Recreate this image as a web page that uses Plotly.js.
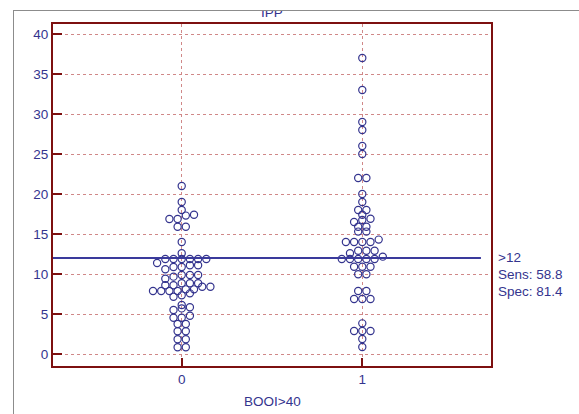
<!DOCTYPE html>
<html>
<head>
<meta charset="utf-8">
<script src="https://cdn.plot.ly/plotly-3.0.1.min.js"></script>
<style>
html,body{margin:0;padding:0;background:#fff;overflow:hidden;}
#chart{position:absolute;left:0;top:0;width:579px;height:414px;}
#mask{position:absolute;left:0;top:0;width:579px;height:10px;background:#fff;}
#frame{position:absolute;left:13px;top:10px;width:700px;height:600px;border-left:1px solid #8c8c8c;border-top:1px solid #8c8c8c;pointer-events:none;}
</style>
</head>
<body>
<div id="chart"></div>
<div id="mask"></div>
<div id="frame"></div>
<script>
// ---- data ----
const groupLabels = ['0', '1'];
const group0Values = [0.84,0.84,1.84,1.84,2.84,2.84,3.75,3.75,4.54,4.54,4.79,5.5,5.7,5.84,6.12,
  7.16,7.33,7.58,7.88,7.88,7.88,7.88,8.08,8.08,8.41,8.41,8.59,8.59,8.84,8.84,8.84,
  9.41,9.67,9.88,9.88,9.88,10.59,10.88,10.88,11.09,11.09,11.38,11.88,11.88,11.88,11.88,11.88,11.88,
  12.59,14,15.9,15.9,16.88,16.88,17.3,17.4,18,19,21];
const group1Values = [0.88,1.88,2.88,2.88,2.88,3.83,6.88,6.88,6.88,7.88,7.88,9.96,9.96,
  10.9,10.9,10.9,11.88,11.88,11.88,11.88,11.88,12.17,12.6,12.9,12.9,12.9,14,14,14,14,14.3,
  15.3,15.3,15.9,15.9,16.5,16.75,16.9,17.4,18,18,19,20,22,22,25,26,28,29,33,37];
const cutoff = 12;
const criterionLabel = '>12';
const sensitivity = 58.8;
const specificity = 81.4;
const yTickVals = [0,5,10,15,20,25,30,35,40];
const xTitle = 'BOOI>40';
const chartTitle = 'IPP';

// ---- layout constants ----
const W = 579, H = 414;
const M = {l: 53, r: 88, t: 24, b: 48};
const xRange = [-0.7127, 1.7127];
const yRange = [-1.5, 41.25];
const navy = '#34348e';
const maroon = '#7d1010';
const gridCol = '#d08888';
const font = 'Liberation Sans, Arial, sans-serif';
const fs = 13.5;
const markerPx = 8.2;   // dot spacing in pixels
const rowTol = 0.55;    // values closer than this share a row

const plotW = W - M.l - M.r;
const slot = markerPx * (xRange[1] - xRange[0]) / plotW;

function dotPlot(values, center) {
  const s = values.slice().sort((a, b) => a - b);
  const xs = [], ys = [];
  let i = 0;
  while (i < s.length) {
    const start = s[i];
    const row = [];
    while (i < s.length && s[i] - start <= rowTol + 1e-9) row.push(s[i++]);
    row.forEach((v, k) => { xs.push(center + (k - (row.length - 1) / 2) * slot); ys.push(v); });
  }
  return {xs, ys};
}

const d0 = dotPlot(group0Values, 0);
const d1 = dotPlot(group1Values, 1);

const markerStyle = {symbol: 'circle-open', size: 7.2, color: navy, line: {width: 1.2, color: navy}};

const traces = [
  {x: d0.xs, y: d0.ys, type: 'scatter', mode: 'markers', marker: markerStyle, hoverinfo: 'y', showlegend: false, cliponaxis: false},
  {x: d1.xs, y: d1.ys, type: 'scatter', mode: 'markers', marker: markerStyle, hoverinfo: 'y', showlegend: false, cliponaxis: false}
];

const layout = {
  width: W, height: H,
  margin: M,
  paper_bgcolor: '#fff', plot_bgcolor: '#fff',
  font: {family: font, size: fs, color: navy},
  showlegend: false,
  xaxis: {
    range: xRange, tickvals: [0, 1], ticktext: groupLabels,
    showgrid: true, gridcolor: gridCol, griddash: 'dot', gridwidth: 1,
    zeroline: false, showline: true, mirror: true, linecolor: maroon, linewidth: 2,
    ticks: 'inside', ticklen: 8, tickwidth: 2, tickcolor: maroon,
    tickfont: {family: font, size: fs, color: navy}, fixedrange: true
  },
  yaxis: {
    range: yRange, tickvals: yTickVals,
    showgrid: true, gridcolor: gridCol, griddash: 'dot', gridwidth: 1,
    zeroline: false, showline: true, mirror: true, linecolor: maroon, linewidth: 2,
    ticks: 'inside', ticklen: 9, tickwidth: 2, tickcolor: maroon,
    tickfont: {family: font, size: fs, color: navy}, fixedrange: true
  },
  shapes: [
    {type: 'line', xref: 'paper', yref: 'y', x0: 0, x1: 0.977, y0: cutoff, y1: cutoff,
     line: {color: '#3a3a9c', width: 2}, layer: 'above'}
  ],
  annotations: [
    {text: chartTitle, xref: 'paper', yref: 'paper', x: 0.5, y: 1, xanchor: 'center', yanchor: 'bottom', yshift: 2, showarrow: false, font: {family: font, size: fs, color: navy}},
    {text: xTitle, xref: 'paper', yref: 'paper', x: 0.5, y: 0, xanchor: 'center', yanchor: 'middle', yshift: -35, showarrow: false, font: {family: font, size: fs, color: navy}},
    {text: criterionLabel, xref: 'paper', yref: 'y', x: 1, y: cutoff, xanchor: 'left', yanchor: 'middle', xshift: 5, yshift: 1, showarrow: false, align: 'left'},
    {text: 'Sens: ' + sensitivity.toFixed(1), xref: 'paper', yref: 'y', x: 1, y: cutoff, xanchor: 'left', yanchor: 'middle', xshift: 5, yshift: -16, showarrow: false, align: 'left'},
    {text: 'Spec: ' + specificity.toFixed(1), xref: 'paper', yref: 'y', x: 1, y: cutoff, xanchor: 'left', yanchor: 'middle', xshift: 5, yshift: -33, showarrow: false, align: 'left'}
  ]
};

Plotly.newPlot('chart', traces, layout, {displayModeBar: false, staticPlot: true});
</script>
</body>
</html>
